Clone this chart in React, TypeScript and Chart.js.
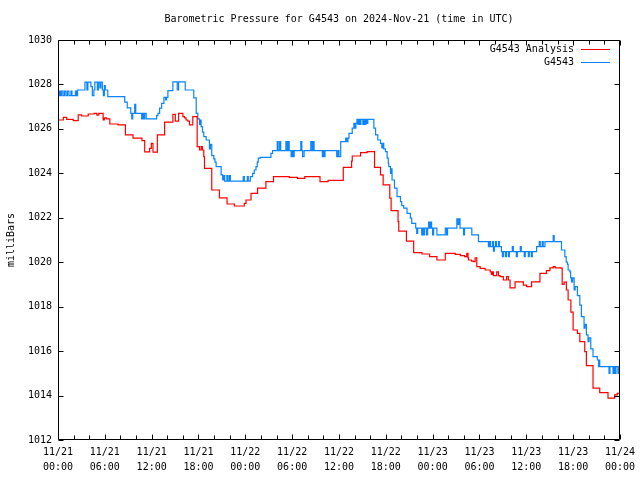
import React, { useEffect, useRef } from "react";
import { Chart, registerables } from "chart.js";

Chart.register(...registerables);

const TITLE = "Barometric Pressure for G4543 on 2024-Nov-21 (time in UTC)";
const Y_LABEL = "milliBars";
const SERIES_NAMES = ["G4543 Analysis", "G4543"];
const SERIES_COLORS = ["#ff0000", "#0a84ff"];

const X_TICK_DATES = ["11/21", "11/21", "11/21", "11/21", "11/22", "11/22", "11/22", "11/22", "11/23", "11/23", "11/23", "11/23", "11/24"];
const X_TICK_TIMES = ["00:00", "06:00", "12:00", "18:00", "00:00", "06:00", "12:00", "18:00", "00:00", "06:00", "12:00", "18:00", "00:00"];
const X_MAX_HOURS = 72;
const X_MAJOR_STEP = 6;
const X_MINOR_STEP = 2;
const Y_MIN = 1012;
const Y_MAX = 1030;
const Y_STEP = 2;

// hours since 2024-11-21 00:00 UTC at which the value changes
const analysisHours = [
  0, 0.68, 1.11, 1.95, 2.59, 3.03, 3.87, 4.63, 4.98, 5.23, 5.78, 5.94, 6.22, 6.64, 7.7, 8.64, 9.61, 10.76, 11.11, 11.74,
  11.96, 12.17, 12.73, 13.66, 14.72, 15.03, 15.45, 16.0, 16.21, 16.4, 16.63, 16.85, 17.27, 17.83, 18.13, 18.34, 18.51, 18.68, 18.77, 19.7,
  20.68, 21.66, 22.6, 23.87, 24.09, 24.73, 25.57, 26.64, 27.61, 29.62, 30.68, 31.62, 33.57, 34.6, 36.55, 37.62, 37.7, 38.77, 39.61, 40.56,
  41.32, 41.66, 42.51, 42.68, 43.57, 43.66, 44.64, 45.57, 46.63, 47.62, 48.55, 49.62, 50.9, 51.54, 52.09, 52.38, 52.53, 52.6, 52.98, 53.23,
  53.45, 53.66, 54.09, 54.73, 55.37, 55.53, 55.66, 55.79, 56.21, 56.43, 56.64, 57.06, 57.48, 57.7, 57.92, 58.56, 59.62, 60.04, 60.68, 61.75,
  62.59, 63.03, 63.45, 63.7, 64.47, 64.6, 64.85, 65.14, 65.36, 65.71, 66.0, 66.55, 66.86, 67.49, 67.7, 68.55, 69.41, 70.47, 71.32, 71.65,
  72,
];
const analysisValues = [
  1026.4, 1026.52, 1026.43, 1026.37, 1026.63, 1026.58, 1026.67, 1026.7, 1026.62, 1026.7, 1026.4, 1026.5, 1026.45, 1026.22, 1026.18, 1025.73, 1025.58, 1025.47, 1024.97, 1025.12,
  1025.35, 1024.95, 1025.73, 1026.3, 1026.65, 1026.35, 1026.7, 1026.55, 1026.5, 1026.4, 1026.35, 1026.18, 1026.55, 1025.2, 1025.05, 1025.2, 1025.05, 1024.75, 1024.22, 1023.25,
  1022.9, 1022.62, 1022.53, 1022.65, 1022.8, 1023.1, 1023.33, 1023.63, 1023.85, 1023.82, 1023.77, 1023.85, 1023.63, 1023.68, 1024.27, 1024.55, 1024.78, 1024.93, 1024.98, 1024.27,
  1023.93, 1023.48, 1022.88, 1022.32, 1021.83, 1021.4, 1020.95, 1020.43, 1020.37, 1020.25, 1020.1, 1020.4, 1020.35, 1020.3, 1020.25, 1020.4, 1020.2, 1020.1, 1020.05, 1020.03,
  1020.2, 1019.8, 1019.72, 1019.65, 1019.57, 1019.45, 1019.57, 1019.4, 1019.57, 1019.4, 1019.35, 1019.2, 1019.35, 1019.2, 1018.85, 1019.12, 1018.97, 1018.9, 1019.12, 1019.5,
  1019.62, 1019.75, 1019.8, 1019.75, 1019.73, 1019.0, 1019.1, 1018.75, 1018.3, 1017.75, 1016.95, 1016.8, 1016.43, 1015.98, 1015.35, 1014.33, 1014.13, 1013.88, 1014.03, 1014.1,
  1014.1,
];

const obsHours = [
  0, 0.19, 0.32, 0.45, 0.64, 0.83, 1.02, 1.21, 1.4, 1.66, 1.79, 2.23, 2.36, 2.51, 3.45, 3.7, 3.83, 4.21, 4.4, 4.6,
  4.72, 5.04, 5.17, 5.36, 5.49, 5.68, 5.81, 5.94, 6.06, 6.38, 8.55, 8.87, 9.32, 9.45, 9.57, 9.83, 9.96, 10.72, 10.85, 10.98,
  11.11, 11.3, 12.64, 12.8, 13.02, 13.28, 13.57, 13.79, 13.91, 14.08, 14.72, 15.28, 15.45, 16.3, 17.4, 17.71, 17.91, 18.13, 18.26, 18.34,
  18.51, 18.68, 18.98, 19.4, 19.53, 19.7, 19.96, 20.11, 20.26, 20.9, 21.1, 21.23, 21.36, 21.64, 21.77, 21.96, 22.09, 23.74, 23.87, 24.26,
  24.38, 24.64, 24.93, 25.15, 25.37, 25.53, 25.66, 25.92, 27.28, 27.49, 28.09, 28.21, 28.4, 28.53, 29.2, 29.36, 29.49, 29.62, 29.87, 30.0,
  30.13, 30.26, 31.11, 31.24, 31.34, 31.53, 32.39, 32.55, 32.68, 32.81, 33.87, 34.02, 34.09, 34.21, 35.71, 35.87, 36.0, 36.22, 36.86, 37.02,
  37.15, 37.28, 37.7, 37.91, 38.04, 38.17, 38.3, 38.43, 38.55, 38.68, 38.81, 39.06, 39.19, 39.32, 39.45, 39.57, 39.7, 40.47, 40.69, 40.98,
  41.32, 41.49, 41.62, 41.74, 41.96, 42.17, 42.32, 42.38, 42.6, 42.7, 42.8, 43.11, 43.44, 43.88, 44.04, 44.3, 44.72, 45.15, 45.32, 45.83,
  45.96, 46.09, 46.6, 46.72, 46.85, 46.98, 47.23, 47.36, 47.49, 47.62, 47.74, 47.87, 48.0, 48.13, 48.55, 49.62, 49.79, 49.91, 51.1, 51.26,
  51.38, 51.51, 51.96, 52.09, 53.02, 53.87, 55.15, 55.28, 55.4, 55.66, 55.79, 55.91, 56.04, 56.17, 56.43, 56.55, 56.81, 56.94, 57.06, 57.32,
  57.45, 57.7, 57.83, 58.21, 58.34, 58.72, 58.85, 59.23, 59.36, 59.74, 59.87, 60.26, 60.38, 60.64, 60.77, 61.32, 61.66, 61.79, 62.04, 62.17,
  62.39, 63.45, 63.57, 64.51, 64.94, 65.11, 65.28, 65.36, 65.58, 65.68, 65.79, 65.94, 66.13, 66.26, 66.55, 66.86, 67.06, 67.4, 67.53, 67.7,
  67.91, 68.04, 68.26, 68.55, 69.1, 69.26, 69.34, 69.41, 70.6, 70.72, 71.11, 71.23, 71.36, 71.49, 71.74, 71.87, 72,
];
const obsValues = [
  1027.5, 1027.7, 1027.5, 1027.7, 1027.5, 1027.7, 1027.5, 1027.7, 1027.5, 1027.7, 1027.5, 1027.7, 1027.5, 1027.75, 1028.1, 1027.75, 1028.1, 1027.9, 1027.5, 1027.75,
  1028.1, 1027.75, 1028.1, 1027.85, 1028.1, 1027.75, 1027.5, 1027.95, 1027.75, 1027.45, 1027.2, 1026.95, 1026.7, 1026.45, 1026.7, 1027.1, 1026.7, 1026.45, 1026.7, 1026.45,
  1026.7, 1026.45, 1026.6, 1026.7, 1026.93, 1027.15, 1027.42, 1027.3, 1027.42, 1027.72, 1028.12, 1027.75, 1028.12, 1027.75, 1027.4, 1026.7, 1026.45, 1026.2, 1026.4, 1026.1,
  1025.85, 1025.65, 1025.5, 1025.1, 1025.3, 1024.8, 1024.65, 1024.5, 1024.3, 1023.93, 1023.7, 1023.9, 1023.65, 1023.9, 1023.65, 1023.9, 1023.65, 1023.85, 1023.65, 1023.85,
  1023.65, 1023.85, 1024.0, 1024.15, 1024.3, 1024.5, 1024.68, 1024.72, 1024.9, 1025.02, 1025.43, 1025.02, 1025.43, 1025.02, 1025.43, 1025.02, 1025.43, 1025.02, 1024.75, 1025.02,
  1024.75, 1025.02, 1025.43, 1025.02, 1024.75, 1025.02, 1025.43, 1025.02, 1025.43, 1025.02, 1024.75, 1025.02, 1024.75, 1025.02, 1024.75, 1025.02, 1024.75, 1025.43, 1025.58, 1025.43,
  1025.58, 1025.8, 1026.03, 1026.25, 1026.03, 1026.25, 1026.43, 1026.2, 1026.43, 1026.2, 1026.43, 1026.2, 1026.43, 1026.2, 1026.43, 1026.25, 1026.43, 1026.03, 1025.73, 1025.5,
  1025.35, 1025.15, 1025.35, 1025.1, 1024.98, 1024.68, 1024.45, 1024.3, 1024.0, 1024.2, 1023.7, 1023.33, 1022.95, 1022.73, 1022.55, 1022.43, 1022.2, 1021.98, 1021.75, 1021.53,
  1021.3, 1021.53, 1021.23, 1021.53, 1021.23, 1021.53, 1021.23, 1021.53, 1021.8, 1021.53, 1021.8, 1021.53, 1021.23, 1021.53, 1021.23, 1021.53, 1021.23, 1021.53, 1021.95, 1021.7,
  1021.95, 1021.53, 1021.23, 1021.53, 1021.23, 1020.93, 1020.7, 1020.93, 1020.7, 1020.93, 1020.5, 1020.7, 1020.93, 1020.7, 1020.93, 1020.7, 1020.48, 1020.25, 1020.48, 1020.25,
  1020.48, 1020.25, 1020.48, 1020.7, 1020.48, 1020.25, 1020.48, 1020.7, 1020.48, 1020.25, 1020.48, 1020.25, 1020.48, 1020.25, 1020.48, 1020.7, 1020.93, 1020.7, 1020.93, 1020.7,
  1020.93, 1021.2, 1020.93, 1020.55, 1020.25, 1020.0, 1019.9, 1019.65, 1019.57, 1019.3, 1019.12, 1019.3, 1018.75, 1018.9, 1018.5, 1018.07, 1017.55, 1017.03, 1017.2, 1016.73,
  1016.43, 1016.6, 1016.1, 1015.75, 1015.6, 1015.3, 1015.6, 1015.3, 1015.0, 1015.3, 1015.0, 1015.3, 1015.0, 1015.3, 1015.0, 1015.3, 1015.3,
];

const FONT_FAMILY = '"DejaVu Sans Mono", "Liberation Mono", monospace';

const gnuplotFrame = {
  id: "gnuplotFrame",
  afterDraw(chart: any) {
    const { ctx, chartArea } = chart;
    const { left, right, top, bottom } = chartArea;
    const xs = chart.scales.x;
    const ys = chart.scales.y;
    const L = Math.round(left) + 0.5;
    const R = Math.round(right) - 0.5;
    const T = Math.round(top) + 0.5;
    const B = Math.round(bottom) - 0.5;
    ctx.save();
    ctx.strokeStyle = "#000";
    ctx.lineWidth = 1;
    ctx.beginPath();
    ctx.rect(L, T, R - L, B - T);
    for (let v = Y_MIN; v <= Y_MAX; v += Y_STEP) {
      const py = Math.round(ys.getPixelForValue(v)) + 0.5;
      ctx.moveTo(L, py);
      ctx.lineTo(L + 5, py);
      ctx.moveTo(R, py);
      ctx.lineTo(R - 5, py);
    }
    for (let h = 0; h <= X_MAX_HOURS; h += X_MINOR_STEP) {
      const px = Math.round(xs.getPixelForValue(h)) + 0.5;
      const len = h % X_MAJOR_STEP === 0 ? 5 : 4;
      ctx.moveTo(px, B);
      ctx.lineTo(px, B - len);
      ctx.moveTo(px, T);
      ctx.lineTo(px, T + len);
    }
    ctx.stroke();

    ctx.fillStyle = "#000";
    ctx.font = `10px ${FONT_FAMILY}`;
    ctx.textBaseline = "middle";
    ctx.textAlign = "center";
    ctx.fillText(TITLE, (left + right) / 2, 19.5);

    // legend
    const legendRight = 574;
    const rowY = [49.5, 62.5];
    SERIES_NAMES.forEach((name, i) => {
      ctx.textAlign = "right";
      ctx.fillText(name, legendRight, rowY[i]);
      ctx.strokeStyle = SERIES_COLORS[i];
      ctx.beginPath();
      ctx.moveTo(581, Math.round(rowY[i]) - 0.5);
      ctx.lineTo(610, Math.round(rowY[i]) - 0.5);
      ctx.stroke();
    });

    // y axis label
    ctx.save();
    ctx.translate(11, (top + bottom) / 2);
    ctx.rotate(-Math.PI / 2);
    ctx.textAlign = "center";
    ctx.fillStyle = "#000";
    ctx.fillText(Y_LABEL, 0, 0);
    ctx.restore();

    ctx.restore();
  },
};

export default function App() {
  const canvasRef = useRef<HTMLCanvasElement | null>(null);

  useEffect(() => {
    const canvas = canvasRef.current;
    if (!canvas) return;
    const chart = new Chart(canvas, {
      type: "line",
      data: {
        datasets: [
          {
            label: SERIES_NAMES[0],
            data: analysisHours.map((h, i) => ({ x: h, y: analysisValues[i] })),
            borderColor: SERIES_COLORS[0],
            borderWidth: 1.2,
            pointRadius: 0,
            stepped: "before",
            fill: false,
          },
          {
            label: SERIES_NAMES[1],
            data: obsHours.map((h, i) => ({ x: h, y: obsValues[i] })),
            borderColor: SERIES_COLORS[1],
            borderWidth: 1.2,
            pointRadius: 0,
            stepped: "before",
            fill: false,
          },
        ],
      },
      options: {
        animation: false,
        responsive: false,
        layout: { padding: { top: 40, right: 19, left: 0, bottom: 0 } },
        plugins: {
          legend: { display: false },
          title: { display: false },
          tooltip: { enabled: false },
        },
        scales: {
          x: {
            type: "linear",
            min: 0,
            max: X_MAX_HOURS,
            grid: { display: false, drawTicks: false },
            border: { display: false },
            ticks: {
              stepSize: X_MAJOR_STEP,
              autoSkip: false,
              maxRotation: 0,
              minRotation: 0,
              padding: 5,
              color: "#000",
              font: { family: FONT_FAMILY, size: 10, lineHeight: 1.5 },
              callback: (v: any) => {
                const i = Math.round(Number(v) / X_MAJOR_STEP);
                return [X_TICK_DATES[i], X_TICK_TIMES[i]];
              },
            },
            afterFit: (s: any) => {
              s.height = 40;
            },
          },
          y: {
            min: Y_MIN,
            max: Y_MAX,
            grid: { display: false, drawTicks: false },
            border: { display: false },
            ticks: {
              stepSize: Y_STEP,
              padding: 6,
              color: "#000",
              font: { family: FONT_FAMILY, size: 10 },
              callback: (v: any) => String(Math.round(Number(v))),
            },
            afterFit: (s: any) => {
              s.width = 58;
            },
          },
        },
      },
      plugins: [gnuplotFrame],
    });
    return () => chart.destroy();
  }, []);

  return (
    <div style={{ position: "absolute", left: 0, top: 0, width: 640, height: 480, background: "#fff" }}>
      <canvas ref={canvasRef} width={640} height={480} style={{ display: "block" }} />
    </div>
  );
}
